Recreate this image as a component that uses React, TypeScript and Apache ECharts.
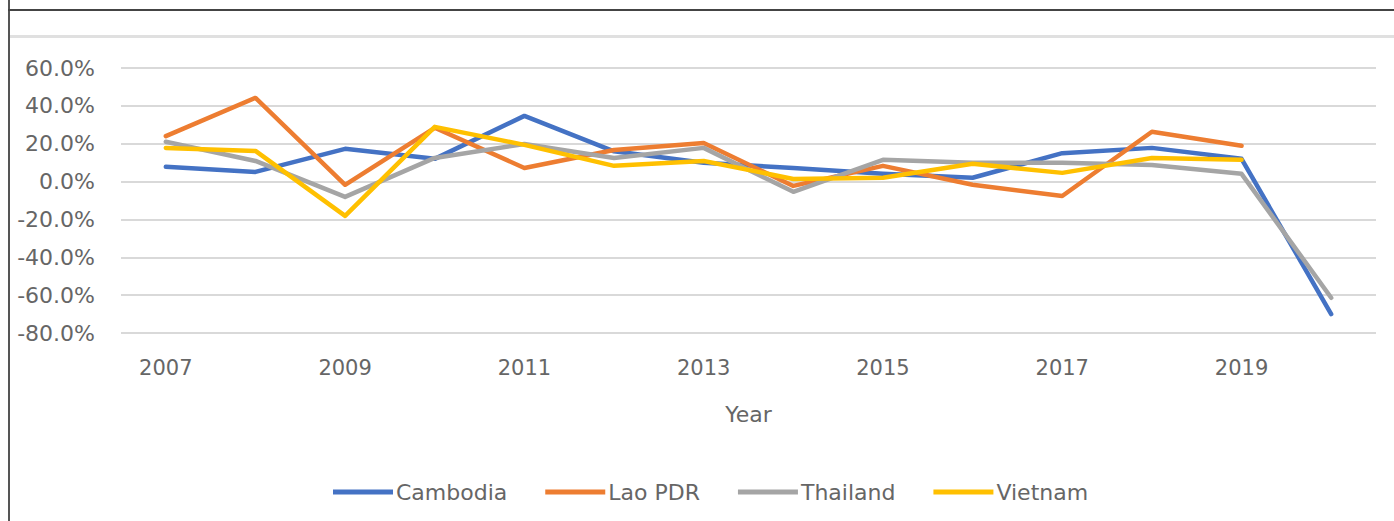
import React, { useEffect, useRef } from "react";
import * as echarts from "echarts";

const years = ["2007", "2008", "2009", "2010", "2011", "2012", "2013", "2014", "2015", "2016", "2017", "2018", "2019", "2020"];
const cambodia = [7.8, 5.1, 17.3, 12, 34.7, 16, 9.9, 7.2, 4.1, 2, 15, 17.8, 12, -70];
const laoPDR = [24, 44.2, -1.7, 28.4, 7.2, 16.7, 20.4, -2.3, 8.3, -1.7, -7.6, 26.3, 18.9, null];
const thailand = [21, 10.9, -8.1, 12.5, 19.9, 12.5, 17.8, -5.4, 11.5, 9.9, 9.9, 8.8, 4.1, -61.4];
const vietnam = [17.8, 16.2, -18.1, 28.9, 19.4, 8.3, 10.9, 1.4, 2, 9.4, 4.6, 12.5, 11.5, null];
const seriesNames = ["Cambodia", "Lao PDR", "Thailand", "Vietnam"];
const seriesColors = ["#4472C4", "#ED7D31", "#A5A5A5", "#FFC000"];

export default function App() {
  const ref = useRef<HTMLDivElement>(null);
  useEffect(() => {
    document.body.style.margin = "0";
    const chart = echarts.init(ref.current!, null, { renderer: "svg" });
    const font = "DejaVu Sans";
    const textColor = "#666666";
    const all = [cambodia, laoPDR, thailand, vietnam];
    chart.setOption({
      animation: false,
      backgroundColor: "#ffffff",
      textStyle: { fontFamily: font },
      graphic: [
        { type: "line", shape: { x1: 9, y1: 0, x2: 9, y2: 521 }, style: { stroke: "#555", lineWidth: 2 } },
        { type: "line", shape: { x1: 8, y1: 10, x2: 1394, y2: 10 }, style: { stroke: "#444", lineWidth: 2 } },
        { type: "line", shape: { x1: 10, y1: 36.5, x2: 1394, y2: 36.5 }, style: { stroke: "#e0e0e0", lineWidth: 3 } },
      ],
      grid: { left: 121, right: 18, top: 68, bottom: 188, containLabel: false },
      legend: {
        data: seriesNames,
        left: 328,
        top: 476,
        icon: "rect",
        itemWidth: 60,
        itemHeight: 5,
        itemGap: 38,
        textStyle: { fontFamily: font, fontSize: 22, color: textColor, padding: [0, 0, 0, -2] },
      },
      xAxis: {
        type: "category",
        data: years,
        boundaryGap: true,
        name: "Year",
        nameLocation: "middle",
        nameGap: 70,
        nameTextStyle: { fontFamily: font, fontSize: 22, color: textColor },
        axisLine: { show: false },
        axisTick: { show: false },
        axisLabel: { interval: 1, margin: 24, fontFamily: font, fontSize: 21, color: textColor },
      },
      yAxis: {
        type: "value",
        min: -80,
        max: 60,
        interval: 20,
        axisLine: { show: false },
        axisTick: { show: false },
        axisLabel: {
          margin: 26,
          fontFamily: font,
          fontSize: 22,
          color: textColor,
          formatter: (v: number) => v.toFixed(1) + "%",
        },
        splitLine: { lineStyle: { color: "#d9d9d9", width: 2 } },
      },
      series: seriesNames.map((n, i) => ({
        name: n,
        type: "line",
        data: all[i],
        symbol: "none",
        showSymbol: false,
        connectNulls: false,
        itemStyle: { color: seriesColors[i] },
        lineStyle: { color: seriesColors[i], width: 4.5, cap: "round", join: "round" },
      })),
    });
    return () => chart.dispose();
  }, []);
  return <div ref={ref} style={{ width: 1394, height: 521 }} />;
}
